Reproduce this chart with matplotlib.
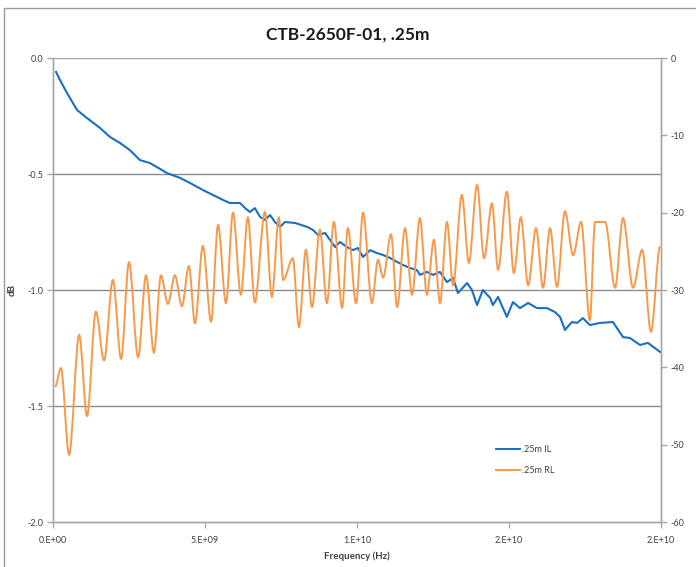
import matplotlib
matplotlib.use('Agg')
import matplotlib.pyplot as plt
from matplotlib.path import Path
from matplotlib.patches import PathPatch, Rectangle
from matplotlib.lines import Line2D
import numpy as np

plt.rcParams['font.family'] = ['Lato', 'DejaVu Sans']
plt.rcParams['axes.unicode_minus'] = False

title = 'CTB-2650F-01, .25m'

# insertion loss (left axis, dB), frequency in GHz
il_ghz = [0.10, 0.23, 0.46, 0.79, 1.12, 1.55, 1.88, 2.20, 2.53, 2.86, 3.19, 3.52,
          3.75, 4.18, 4.51, 4.93, 5.33, 5.66, 5.82, 6.15, 6.32, 6.48, 6.64, 6.81,
          6.97, 7.14, 7.30, 7.47, 7.63, 7.96, 8.36, 8.55, 8.72, 8.95, 9.11, 9.28,
          9.44, 9.67, 9.87, 10.03, 10.20, 10.43, 10.66, 10.86, 11.09, 11.32, 11.51,
          11.74, 11.97, 12.07, 12.30, 12.50, 12.73, 12.96, 13.16, 13.32, 13.62,
          13.78, 13.95, 14.14, 14.38, 14.47, 14.64, 14.93, 15.13, 15.36, 15.63,
          15.92, 16.25, 16.51, 16.68, 16.84, 17.07, 17.24, 17.43, 17.66, 17.99,
          18.42, 18.75, 18.98, 19.31, 19.57, 19.97]
il_db = [-0.060, -0.095, -0.151, -0.224, -0.259, -0.302, -0.341, -0.366, -0.397,
         -0.440, -0.453, -0.478, -0.496, -0.517, -0.539, -0.569, -0.595, -0.616,
         -0.625, -0.625, -0.647, -0.664, -0.647, -0.685, -0.698, -0.677, -0.707,
         -0.728, -0.707, -0.711, -0.728, -0.741, -0.763, -0.754, -0.784, -0.815,
         -0.793, -0.815, -0.828, -0.819, -0.858, -0.828, -0.841, -0.849, -0.862,
         -0.879, -0.892, -0.905, -0.914, -0.935, -0.922, -0.935, -0.922, -0.966,
         -0.948, -1.013, -0.970, -1.000, -1.065, -1.000, -1.034, -1.065, -1.030,
         -1.116, -1.052, -1.078, -1.056, -1.078, -1.078, -1.095, -1.116, -1.172,
         -1.138, -1.142, -1.121, -1.151, -1.142, -1.138, -1.203, -1.207, -1.237,
         -1.228, -1.267]

# return loss (right axis, dB): peaks and troughs of the ripple
rl_ghz = [0.07, 0.26, 0.53, 0.86, 1.12, 1.41, 1.68, 1.97, 2.24, 2.50, 2.80, 3.06,
          3.32, 3.55, 3.78, 4.01, 4.24, 4.47, 4.67, 4.93, 5.20, 5.43, 5.69, 5.92,
          6.18, 6.41, 6.64, 6.97, 7.20, 7.43, 7.57, 7.89, 8.09, 8.32, 8.52, 8.78,
          9.01, 9.24, 9.51, 9.70, 9.97, 10.20, 10.49, 10.69, 10.86, 11.12, 11.32,
          11.58, 11.81, 12.07, 12.30, 12.53, 12.73, 12.96, 13.16, 13.45, 13.68,
          13.95, 14.18, 14.44, 14.64, 14.93, 15.16, 15.39, 15.63, 15.89, 16.12,
          16.35, 16.58, 16.84, 17.11, 17.37, 17.66, 17.83, 18.16, 18.49, 18.75,
          19.08, 19.38, 19.67, 19.97]
rl_db = [-42.5, -40.1, -51.3, -35.8, -46.3, -32.8, -39.1, -28.7, -38.9, -26.4,
         -38.7, -28.1, -38.1, -28.1, -31.8, -28.1, -32.1, -26.9, -34.3, -24.3,
         -34.1, -21.6, -31.7, -20.0, -30.6, -20.6, -31.6, -19.9, -30.9, -20.6,
         -28.7, -25.9, -34.8, -24.8, -32.2, -22.2, -31.7, -21.2, -32.3, -22.0,
         -31.7, -20.0, -31.7, -26.1, -28.4, -22.8, -32.2, -22.0, -30.6, -20.7,
         -30.6, -23.5, -31.7, -21.2, -29.4, -17.7, -26.5, -16.4, -25.9, -18.8,
         -27.4, -17.3, -27.8, -20.6, -29.4, -22.0, -29.7, -22.0, -29.6, -19.8,
         -25.5, -21.2, -33.9, -21.2, -21.2, -29.7, -20.7, -29.7, -24.8, -35.4,
         -24.4]

x_ticks = [0, 5e9, 1e10, 1.5e10, 2e10]
x_labels = ['0.E+00', '5.E+09', '1.E+10', '2.E+10', '2.E+10']
left_ticks = [0.0, -0.5, -1.0, -1.5, -2.0]
right_ticks = [0, -10, -20, -30, -40, -50, -60]

blue = '#1a6fc2'
orange = '#f7994a'
grid_c = '#8c8c8c'
spine_c = '#a6a6a6'
text_c = '#404040'

fig = plt.figure(figsize=(6.96, 5.67), dpi=100)
fig.patches.append(Rectangle((4 / 696, -0.05), 1.2, 1.05 - 8 / 567,
                             transform=fig.transFigure, fill=False,
                             ec='#9a9a9a', lw=1.0))

ax = fig.add_axes([53 / 696, 1 - 522 / 567, 608 / 696, 464 / 567])
ax2 = ax.twinx()

ax.set_xlim(0, 2e10)
ax.set_ylim(-2.0, 0.0)
ax2.set_ylim(-60, 0)

for y in left_ticks[:-1]:
    ax.axhline(y, color=grid_c if y != 0.0 else spine_c, lw=1.0, zorder=1)

ax.plot(np.array(il_ghz) * 1e9, il_db, color=blue, lw=1.5, zorder=3)

# smoothed line through the ripple extrema (like Excel's smoothed line)
xs = np.array(rl_ghz) * 1e9
verts = [(xs[0], rl_db[0])]
codes = [Path.MOVETO]
for i in range(1, len(xs)):
    dx = xs[i] - xs[i - 1]
    verts += [(xs[i - 1] + dx / 3, rl_db[i - 1]), (xs[i] - dx / 3, rl_db[i]),
              (xs[i], rl_db[i])]
    codes += [Path.CURVE4] * 3
ax2.add_patch(PathPatch(Path(verts, codes), fill=False, ec=orange, lw=1.4,
                        zorder=3))

ax.set_xticks(x_ticks)
ax.set_xticklabels(x_labels)
ax.set_yticks(left_ticks)
ax.set_yticklabels(['%.1f' % v for v in left_ticks])
ax2.set_yticks(right_ticks)
ax2.set_yticklabels([str(v) for v in right_ticks])

for a in (ax, ax2):
    for s in a.spines.values():
        s.set_color(spine_c)
        s.set_linewidth(1.0)
    a.spines['top'].set_visible(False)
    a.tick_params(colors=spine_c, labelcolor=text_c, labelsize=6.5,
                  length=4, width=1.0, direction='out', pad=3)
ax.tick_params(axis='x', pad=6)

ax.set_ylabel('dB', fontsize=7, fontweight='bold', color=text_c, labelpad=8)
ax.set_xlabel('Frequency (Hz)', fontsize=7, fontweight='bold', color=text_c,
              labelpad=5)
fig.text(348 / 696, 1 - 35 / 567, title, ha='center', va='center',
         fontsize=12.5, fontweight='bold', color='#1a1a1a')

handles = [Line2D([], [], color=blue, lw=1.4), Line2D([], [], color=orange, lw=1.4)]
fig.legend(handles, ['.25m IL', '.25m RL'], loc='upper left',
           bbox_to_anchor=(488 / 696, 1 - 437 / 567), frameon=False,
           fontsize=6.5, handlelength=2.6, handletextpad=0.3, labelspacing=1.3,
           labelcolor=text_c)

fig.savefig('out.png', dpi=100)
